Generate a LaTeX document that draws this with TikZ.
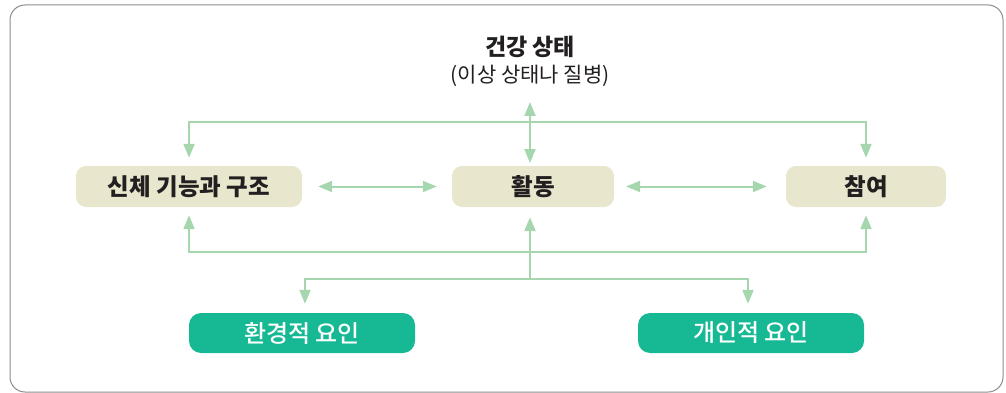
\documentclass[tikz,border=0pt]{standalone}
\usepackage{fontspec}
\usepackage{tikz}
\usetikzlibrary{arrows.meta}
\newfontfamily\kr{Noto Sans CJK KR}
\newfontfamily\krmed{Noto Sans CJK KR Medium}
\definecolor{beige}{HTML}{E8E6CC}
\definecolor{teal}{HTML}{16B994}
\definecolor{link}{HTML}{A5D6AE}
\definecolor{ink}{HTML}{231F20}

\begin{document}
\begin{tikzpicture}[
  x = 1pt, y = -1pt,
  font = \kr,
  component/.style = {fill = beige, rounded corners = 10pt, text = ink,
    minimum height = 41pt, font = \kr\bfseries\fontsize{23.5}{26}\selectfont},
  factor/.style = {fill = teal, rounded corners = 12pt, text = white,
    minimum height = 40pt, minimum width = 226pt, font = \krmed\fontsize{24}{26}\selectfont},
  link/.style = {draw = link, line width = 2pt, -{Triangle[length = 14pt, width = 11pt]}},
  ]

  \useasboundingbox (0, 0) rectangle (1006, 393);

  \draw [gray!90, line width = 1pt, rounded corners = 15pt] (10, 5) rectangle (1003, 392);

  \node at (530, 47)
  [text = ink, font = \kr\bfseries\fontsize{23}{26}\selectfont, name = Health] {건강 상태};

  \node at (530, 76)
  [text = ink, font = \kr\fontsize{21}{24}\selectfont, name = Disorder] {(이상 상태나 질병)};

  \node at (189, 186.5)
  [component, minimum width = 226pt, name = Body] {신체 기능과 구조};

  \node at (533, 186.5)
  [component, minimum width = 162pt, name = Activity] {활동};

  \node at (866, 186.5)
  [component, minimum width = 160pt, name = Participation] {참여};

  \node at (302, 333)
  [factor, name = Environment] {환경적 요인};

  \node at (751, 333)
  [factor, name = Personal] {개인적 요인};

  \coordinate (TopBus) at (530, 122);
  \coordinate (MidBus) at (530, 252);
  \coordinate (LowBus) at (530, 279);

  \draw [link, {Triangle[length = 14pt, width = 11pt]}-{Triangle[length = 14pt, width = 11pt]}]
    (530, 102) to (530, 163);

  \draw [link, shorten > = 8pt] (TopBus) -| (Body.north);

  \draw [link, shorten > = 8pt] (TopBus) -| (Participation.north);

  \draw [link, {Triangle[length = 14pt, width = 11pt]}-{Triangle[length = 14pt, width = 11pt]},
    shorten < = 16pt, shorten > = 15pt] (Body.east) to (Activity.west);

  \draw [link, {Triangle[length = 14pt, width = 11pt]}-{Triangle[length = 14pt, width = 11pt]},
    shorten < = 12pt, shorten > = 19pt] (Activity.east) to (Participation.west);

  \draw [link, shorten > = 8pt] (MidBus) -| (Body.south);

  \draw [link, shorten > = 8pt] (MidBus) -| (Participation.south);

  \draw [link, shorten > = 10pt] (LowBus) to (LowBus |- Activity.south);

  \draw [link, shorten > = 9pt] (LowBus) -| ([xshift = 3pt] Environment.north);

  \draw [link, shorten > = 9pt] (LowBus) -| ([xshift = -3pt] Personal.north);

\end{tikzpicture}
\end{document}
